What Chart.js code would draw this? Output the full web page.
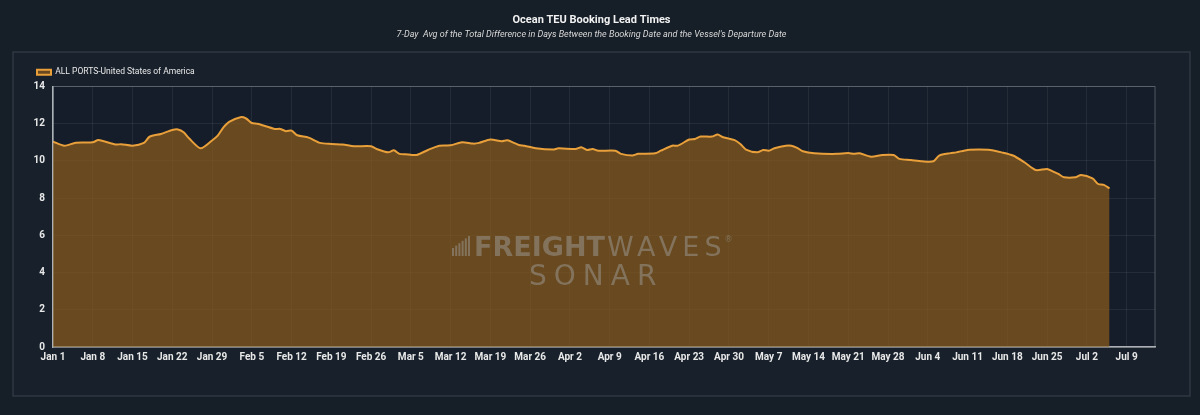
<!DOCTYPE html>
<html>
<head>
<meta charset="utf-8">
<script src="https://cdn.jsdelivr.net/npm/chart.js@4/dist/chart.umd.min.js"></script>
<style>
  html, body { margin: 0; padding: 0; background: #161e27; }
  #wrap { width: 1200px; height: 415px; position: relative; }
</style>
</head>
<body>
<div id="wrap"><canvas id="leadChart" width="1200" height="415"></canvas></div>
<script>
// days since Jan 1 and 7-day avg lead time
const days = [0, 2, 4, 7, 8, 11, 12, 14, 16, 17, 19, 21, 22, 23, 24, 26, 28, 29, 30, 31,
  33, 34, 35, 36, 39, 40, 41, 42, 43, 45, 47, 49, 51, 53, 56, 57, 59, 60, 61, 62,
  64, 66, 68, 70, 72, 74, 75, 77, 79, 80, 82, 83, 85, 88, 89, 92, 93, 94, 95, 96,
  99, 100, 102, 103, 106, 107, 109, 110, 112, 113, 114, 116, 117, 118, 120, 121, 122, 124, 125, 126,
  127, 129, 130, 131, 132, 134, 138, 140, 141, 142, 144, 146, 148, 149, 151, 153, 155, 156, 158, 159,
  161, 163, 165, 167, 169, 171, 173, 175, 176, 177, 178, 180, 181, 183, 184, 185, 186];
const leadTimes = [11.04, 10.82, 10.98, 11.0, 11.12, 10.88, 10.9, 10.82, 10.97, 11.3, 11.45, 11.66, 11.69, 11.54, 11.2, 10.68, 11.1, 11.36, 11.8, 12.1,
  12.35, 12.28, 12.04, 12.0, 11.72, 11.72, 11.6, 11.63, 11.38, 11.25, 10.97, 10.91, 10.88, 10.79, 10.79, 10.64, 10.46, 10.57, 10.38, 10.36,
  10.32, 10.59, 10.82, 10.84, 11.0, 10.93, 10.97, 11.15, 11.06, 11.11, 10.86, 10.82, 10.68, 10.61, 10.68, 10.64, 10.73, 10.59, 10.64, 10.55,
  10.55, 10.38, 10.29, 10.38, 10.41, 10.55, 10.82, 10.82, 11.15, 11.18, 11.31, 11.31, 11.42, 11.27, 11.12, 10.91, 10.61, 10.46, 10.59, 10.55,
  10.68, 10.82, 10.82, 10.7, 10.52, 10.41, 10.38, 10.43, 10.38, 10.41, 10.23, 10.32, 10.32, 10.11, 10.05, 9.98, 9.98, 10.29, 10.42, 10.46,
  10.59, 10.61, 10.59, 10.46, 10.29, 9.93, 9.51, 9.57, 9.44, 9.3, 9.12, 9.12, 9.25, 9.06, 8.76, 8.71, 8.52];
const weekLabels = ['Jan 1', 'Jan 8', 'Jan 15', 'Jan 22', 'Jan 29', 'Feb 5', 'Feb 12', 'Feb 19', 'Feb 26',
  'Mar 5', 'Mar 12', 'Mar 19', 'Mar 26', 'Apr 2', 'Apr 9', 'Apr 16', 'Apr 23', 'Apr 30', 'May 7', 'May 14',
  'May 21', 'May 28', 'Jun 4', 'Jun 11', 'Jun 18', 'Jun 25', 'Jul 2', 'Jul 9'];
const seriesName = 'ALL PORTS-United States of America';

const FONT = '"Roboto", sans-serif';

// panel box, plot background and the watermark
const backdrop = {
  id: 'backdrop',
  beforeDraw(chart) {
    const ctx = chart.ctx;
    const a = chart.chartArea;
    ctx.save();
    ctx.fillStyle = '#18212b';
    ctx.fillRect(13, 52, 1177, 344);
    ctx.strokeStyle = '#2f3843';
    ctx.lineWidth = 1.5;
    ctx.strokeRect(13, 52, 1177, 344);
    ctx.fillStyle = '#141d29';
    ctx.fillRect(a.left, a.top, a.right - a.left, a.bottom - a.top);
    ctx.restore();
  },
  afterDatasetsDraw(chart) {
    const ctx = chart.ctx;
    const a = chart.chartArea;
    ctx.save();
    ctx.strokeStyle = 'rgba(190,195,200,0.35)';
    ctx.lineWidth = 1;
    ctx.strokeRect(a.left, a.top, a.right - a.left, a.bottom - a.top);
    // watermark
    ctx.fillStyle = 'rgba(160,158,152,0.5)';
    for (let i = 0; i < 6; i++) {
      const h = 8 + i * 2.4;
      ctx.fillRect(452 + i * 3.2, 256 - h, 2, h);
    }
    ctx.textBaseline = 'alphabetic';
    ctx.letterSpacing = '0px';
    ctx.font = 'bold 27px "DejaVu Sans", sans-serif';
    ctx.fillText('FREIGHT', 474, 256);
    const w = ctx.measureText('FREIGHT').width;
    ctx.letterSpacing = '5px';
    ctx.font = '27px "DejaVu Sans", sans-serif';
    ctx.fillText('WAVES', 476 + w, 256);
    const w2 = ctx.measureText('WAVES').width;
    ctx.letterSpacing = '0px';
    ctx.font = '8px "DejaVu Sans", sans-serif';
    ctx.fillText('®', 476 + w + w2 - 2, 242);
    ctx.font = '28px "DejaVu Sans", sans-serif';
    ctx.letterSpacing = '7px';
    ctx.fillText('SONAR', 529, 285);
    ctx.restore();
  }
};

new Chart(document.getElementById('leadChart'), {
  type: 'line',
  data: {
    datasets: [{
      label: seriesName,
      data: days.map((d, i) => ({ x: d, y: leadTimes[i] })),
      borderColor: '#e9a03a',
      backgroundColor: 'rgba(132,88,30,0.75)',
      borderWidth: 2,
      pointRadius: 0,
      tension: 0.25,
      fill: 'origin'
    }]
  },
  options: {
    responsive: false,
    animation: false,
    layout: { padding: { left: 28, right: 45, top: 0, bottom: 38 } },
    plugins: {
      title: {
        display: true,
        text: 'Ocean TEU Booking Lead Times',
        color: '#f2f2f2',
        font: { family: FONT, size: 11, weight: 'bold' },
        padding: { top: 14, bottom: 2 }
      },
      subtitle: {
        display: true,
        text: "7-Day  Avg of the Total Difference in Days Between the Booking Date and the Vessel's Departure Date",
        color: '#d8d8d8',
        font: { family: FONT, size: 9, style: 'italic' },
        padding: { bottom: 19 }
      },
      legend: {
        display: true,
        align: 'start',
        labels: {
          color: '#e8e8e8',
          font: { family: FONT, size: 8.5 },
          boxWidth: 14,
          boxHeight: 5,
          padding: 9
        }
      },
      tooltip: { enabled: false }
    },
    scales: {
      x: {
        type: 'linear',
        min: 0,
        max: 194,
        afterBuildTicks(scale) {
          scale.ticks = weekLabels.map((_, i) => ({ value: i * 7 }));
        },
        afterFit(scale) { scale.height = 30; },
        ticks: {
          color: '#e8e8e8',
          font: { family: FONT, size: 10, weight: 'bold' },
          maxRotation: 0,
          autoSkip: false,
          padding: 4,
          callback: v => weekLabels[Math.round(v / 7)]
        },
        grid: { color: 'rgba(255,255,255,0.07)', drawTicks: false },
        border: { color: '#a9adb2', width: 1.5 }
      },
      y: {
        min: 0,
        max: 14,
        afterFit(scale) { scale.width = 25; },
        ticks: {
          stepSize: 2,
          color: '#e8e8e8',
          font: { family: FONT, size: 10, weight: 'bold' },
          padding: 8
        },
        grid: { color: 'rgba(255,255,255,0.07)', drawTicks: false },
        border: { color: '#a9adb2', width: 1.5 }
      }
    }
  },
  plugins: [backdrop]
});
</script>
</body>
</html>
